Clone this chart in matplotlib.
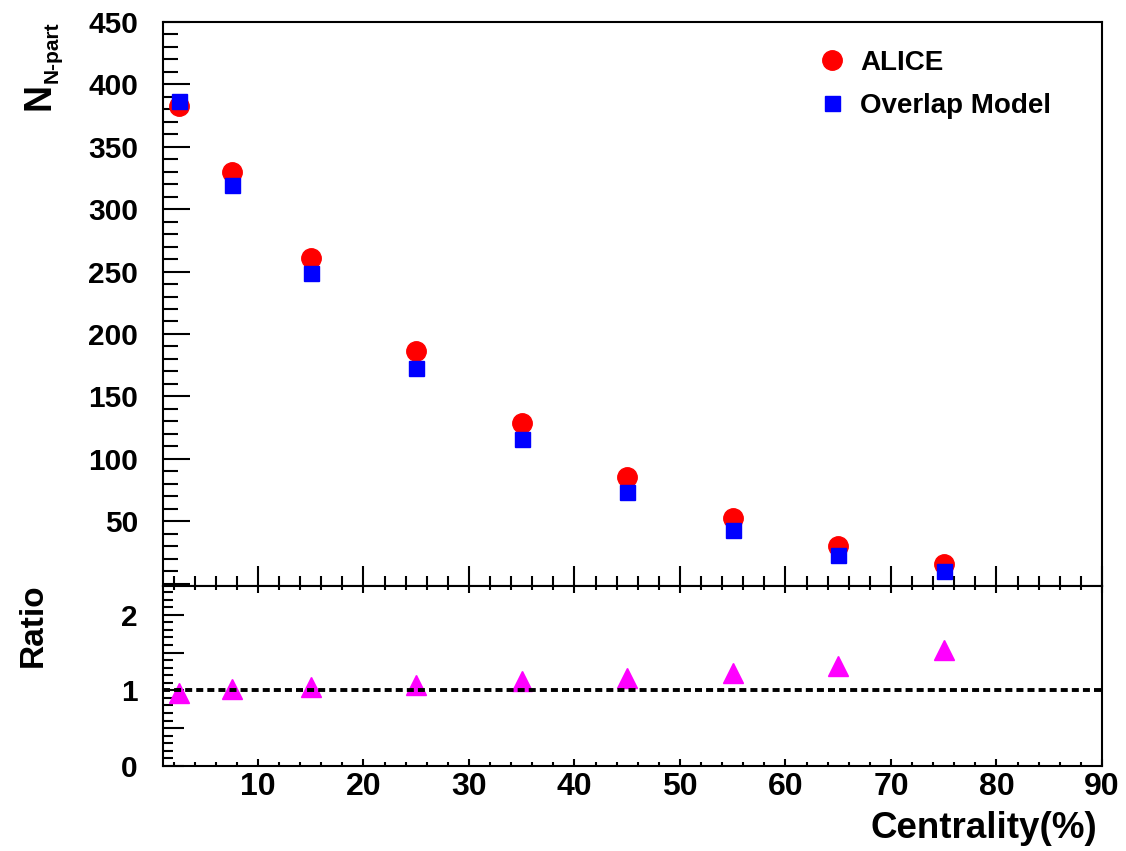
import matplotlib
matplotlib.use('Agg')
import matplotlib.pyplot as plt
from matplotlib.ticker import MultipleLocator, FuncFormatter

# data
centrality = [2.5, 7.5, 15, 25, 35, 45, 55, 65, 75]
npart_alice = [382.8, 329.7, 260.5, 186.4, 128.9, 85.0, 52.8, 30.0, 15.8]
npart_model = [387, 319, 248.5, 172.5, 115.5, 73, 42.5, 23, 9.8]
ratio = [0.97, 1.02, 1.05, 1.07, 1.12, 1.16, 1.23, 1.32, 1.54]

plt.rcParams['font.family'] = 'Liberation Sans'
plt.rcParams['font.weight'] = 'bold'

W, H = 1126, 851
fig = plt.figure(figsize=(W / 100, H / 100), dpi=100)


def px(x0, y0, x1, y1):
    # pixel box (top-left origin) -> figure fraction rect
    return [x0 / W, 1 - y1 / H, (x1 - x0) / W, (y1 - y0) / H]


ax_top = fig.add_axes(px(163, 22, 1102, 586))
ax_bot = fig.add_axes(px(163, 586, 1102, 766), sharex=ax_top)

for ax in (ax_top, ax_bot):
    for s in ax.spines.values():
        s.set_linewidth(1.5)

# upper panel
ax_top.plot(centrality, npart_alice, 'o', color='red', markersize=14, label='ALICE')
ax_top.plot(centrality, npart_model, 's', color='blue', markersize=10.8, label='Overlap Model')
ax_top.set_xlim(1, 90)
ax_top.set_ylim(-2, 450)
ax_top.yaxis.set_major_locator(MultipleLocator(50))
ax_top.yaxis.set_minor_locator(MultipleLocator(10))
ax_top.xaxis.set_major_locator(MultipleLocator(10))
ax_top.xaxis.set_minor_locator(MultipleLocator(2))
ax_top.yaxis.set_major_formatter(FuncFormatter(lambda v, p: '' if v <= 0 else '%d' % v))
ax_top.tick_params(axis='y', which='major', direction='in', length=19.4, width=1.5,
                   labelsize=21.5, pad=18, right=False)
ax_top.tick_params(axis='y', which='minor', direction='in', length=10.8, width=1.5, right=False)
ax_top.tick_params(axis='x', which='major', direction='in', length=14.4, width=1.5,
                   labelbottom=False, top=False)
ax_top.tick_params(axis='x', which='minor', direction='in', length=7.2, width=1.5, top=False)

leg = ax_top.legend(loc='upper left', bbox_to_anchor=(818 / W, 1 - 50 / H),
                    bbox_transform=fig.transFigure, frameon=False, fontsize=20,
                    handlelength=1.0, handletextpad=0.51, labelspacing=0.62,
                    borderpad=0, borderaxespad=0, numpoints=1)

# lower panel
ax_bot.plot(centrality, ratio, '^', color='magenta', markersize=14.4)
ax_bot.axhline(1.0, color='black', linestyle=(0, (1.8, 1.05)), linewidth=2.8)
ax_bot.set_ylim(0, 2.38)
ax_bot.yaxis.set_major_locator(MultipleLocator(0.5))
ax_bot.yaxis.set_minor_locator(MultipleLocator(0.1))
ax_bot.yaxis.set_major_formatter(FuncFormatter(lambda v, p: '%d' % round(v) if abs(v - round(v)) < 1e-6 else ''))
ax_bot.tick_params(axis='y', which='major', direction='in', length=15, width=1.5,
                   labelsize=21.5, pad=18, right=False)
ax_bot.tick_params(axis='y', which='minor', direction='in', length=7.5, width=1.5, right=False)
ax_bot.tick_params(axis='x', which='major', direction='in', length=5, width=1.5,
                   labelsize=23, pad=4.3, top=True)
ax_bot.tick_params(axis='x', which='minor', direction='in', length=2.9, width=1.5, top=True)

# axis titles
fig.text(50 / W, 1 - 110 / H, 'N', fontsize=27, rotation=90, rotation_mode='anchor',
         ha='left', va='baseline')
fig.text(58 / W, 1 - 83 / H, 'N-part', fontsize=15, rotation=90, rotation_mode='anchor',
         ha='left', va='baseline')
fig.text(42 / W, 1 - 667 / H, 'Ratio', fontsize=24, rotation=90, rotation_mode='anchor',
         ha='left', va='baseline')
fig.text(1097 / W, 1 - 838 / H, 'Centrality(%)', fontsize=26.5, ha='right', va='baseline')

fig.savefig('out.png', dpi=100)
